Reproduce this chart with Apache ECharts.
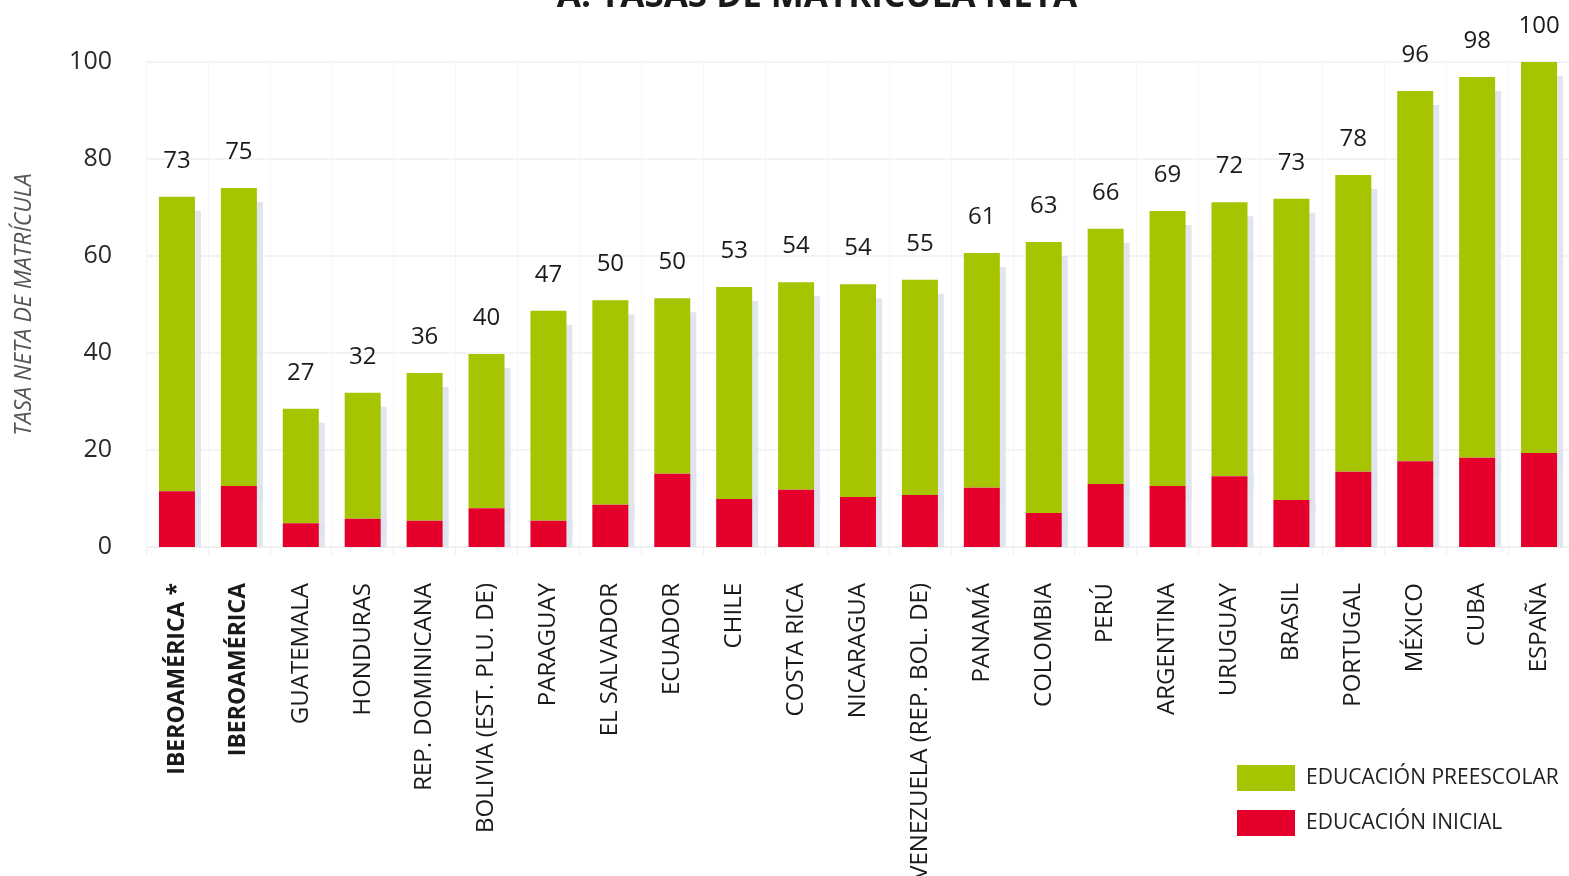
<!DOCTYPE html>
<html>
<head>
<meta charset="utf-8">
<script src="https://cdn.jsdelivr.net/npm/echarts@6/dist/echarts.min.js"></script>
<style>
html,body{margin:0;padding:0;background:#fff;}
#chart{width:1569px;height:876px;}
</style>
</head>
<body>
<div id="chart"></div>
<script>
const categories = ["IBEROAMÉRICA *","IBEROAMÉRICA","GUATEMALA","HONDURAS","REP. DOMINICANA","BOLIVIA (EST. PLU. DE)","PARAGUAY","EL SALVADOR","ECUADOR","CHILE","COSTA RICA","NICARAGUA","VENEZUELA (REP. BOL. DE)","PANAMÁ","COLOMBIA","PERÚ","ARGENTINA","URUGUAY","BRASIL","PORTUGAL","MÉXICO","CUBA","ESPAÑA"];
const inicial = [11.5,12.6,4.9,5.8,5.4,8.0,5.4,8.7,15.1,9.9,11.8,10.3,10.7,12.2,7.0,13.0,12.6,14.6,9.7,15.5,17.7,18.4,19.4];
const preescolar = [60.7,61.4,23.6,26.0,30.5,31.8,43.3,42.2,36.2,43.7,42.8,43.9,44.4,48.4,55.9,52.6,56.7,56.5,62.1,61.2,76.3,78.5,80.6];
const totalLabels = [73,75,27,32,36,40,47,50,50,53,54,54,55,61,63,66,69,72,73,78,96,98,100];
const yTicks = [0,20,40,60,80,100];
const boldCats = ["IBEROAMÉRICA *","IBEROAMÉRICA"];

const FONT = "Open Sans";
const chart = echarts.init(document.getElementById('chart'), null, {renderer:'canvas'});
const shColor = 'rgba(222,226,236,0.9)';
chart.setOption({
  animation:false,
  backgroundColor:'#fff',
  textStyle:{fontFamily:FONT},
  title:{
    text:'A. TASAS DE MATRÍCULA NETA',
    left:812, textAlign:'center', top:-25,
    textStyle:{fontFamily:FONT, fontSize:35, fontWeight:'bold', color:'#1a1a1a'}
  },
  legend:{
    orient:'vertical', left:1232, top:760,
    itemWidth:58, itemHeight:26, itemGap:19,
    icon:'rect',
    data:['EDUCACIÓN PREESCOLAR','EDUCACIÓN INICIAL'],
    textStyle:{fontFamily:FONT, fontSize:21, color:'#222', padding:[0,0,0,6]}
  },
  grid:{left:146, right:-1, top:62, bottom:329, containLabel:false, outerBoundsMode:'none'},
  xAxis:{
    type:'category', data:categories,
    axisLine:{show:true, lineStyle:{color:'#eeeeee'}},
    axisTick:{show:true, length:8, lineStyle:{color:'#eeeeee'}},
    splitLine:{show:true, lineStyle:{color:'#f6f6f6'}},
    axisLabel:{
      rotate:90, interval:0, margin:36,
      fontFamily:FONT, fontSize:24, color:'#1a1a1a',
      formatter:function(v){ return boldCats.indexOf(v)>=0 ? '{b|'+v+'}' : v; },
      rich:{b:{fontFamily:FONT, fontSize:23, fontWeight:'bold', color:'#1a1a1a'}}
    }
  },
  yAxis:{
    type:'value', min:yTicks[0], max:yTicks[yTicks.length-1], interval:20,
    name:'TASA NETA DE MATRÍCULA', nameLocation:'middle', nameGap:110, nameRotate:90,
    nameTextStyle:{fontFamily:FONT, fontSize:23, fontStyle:'italic', color:'#555'},
    axisLine:{show:false}, axisTick:{show:false},
    splitLine:{show:true, lineStyle:{color:'#efefef', width:1.5}},
    axisLabel:{margin:34, fontFamily:FONT, fontSize:25, color:'#2a2a2a'}
  },
  series:[
    {
      name:'EDUCACIÓN INICIAL', type:'bar', stack:'t', data:inicial,
      barWidth:36, z:4,
      itemStyle:{color:'#e4002b', shadowColor:shColor, shadowBlur:0, shadowOffsetX:6, shadowOffsetY:0}
    },
    {
      name:'EDUCACIÓN PREESCOLAR', type:'bar', stack:'t', data:preescolar,
      barWidth:36, z:2,
      itemStyle:{color:'#a6c400', shadowColor:shColor, shadowBlur:0, shadowOffsetX:6, shadowOffsetY:14},
      label:{
        show:true, position:'top', distance:24,
        fontFamily:FONT, fontSize:24, fontWeight:500, color:'#1a1a1a',
        formatter:function(p){ return String(totalLabels[p.dataIndex]); }
      }
    }
  ]
});
</script>
</body>
</html>
